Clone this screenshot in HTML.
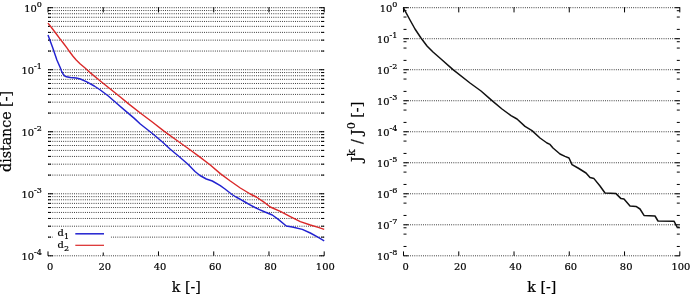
<!DOCTYPE html>
<html><head><meta charset="utf-8"><title>convergence</title>
<style>html,body{margin:0;padding:0;background:#fff}svg{display:block}</style>
</head><body>
<svg width="690" height="295" viewBox="0 0 690 295">
<style>
text{font-family:"DejaVu Serif", "Liberation Serif", serif;fill:#000;stroke:#000;stroke-width:0.2px}
.tk{font-size:9.9px}
.sup{font-size:8.0px}
.lab{font-size:14.2px}
.lsup{font-size:11.36px}
.g{stroke:#111;stroke-width:1;stroke-dasharray:0.8 1.36667;stroke-dashoffset:2.06667}
.t{stroke:#000;stroke-width:1}
</style>
<rect width="690" height="295" fill="#fff"/>
<line class="g" x1="48.00" y1="7.70" x2="324.20" y2="7.70"/>
<line class="g" x1="48.00" y1="10.54" x2="324.20" y2="10.54"/>
<line class="g" x1="48.00" y1="13.71" x2="324.20" y2="13.71"/>
<line class="g" x1="48.00" y1="17.31" x2="324.20" y2="17.31"/>
<line class="g" x1="48.00" y1="21.46" x2="324.20" y2="21.46"/>
<line class="g" x1="48.00" y1="26.37" x2="324.20" y2="26.37"/>
<line class="g" x1="48.00" y1="32.38" x2="324.20" y2="32.38"/>
<line class="g" x1="48.00" y1="40.13" x2="324.20" y2="40.13"/>
<line class="g" x1="48.00" y1="51.05" x2="324.20" y2="51.05"/>
<line class="g" x1="48.00" y1="69.73" x2="324.20" y2="69.73"/>
<line class="g" x1="48.00" y1="72.56" x2="324.20" y2="72.56"/>
<line class="g" x1="48.00" y1="75.74" x2="324.20" y2="75.74"/>
<line class="g" x1="48.00" y1="79.33" x2="324.20" y2="79.33"/>
<line class="g" x1="48.00" y1="83.49" x2="324.20" y2="83.49"/>
<line class="g" x1="48.00" y1="88.40" x2="324.20" y2="88.40"/>
<line class="g" x1="48.00" y1="94.41" x2="324.20" y2="94.41"/>
<line class="g" x1="48.00" y1="102.16" x2="324.20" y2="102.16"/>
<line class="g" x1="48.00" y1="113.08" x2="324.20" y2="113.08"/>
<line class="g" x1="48.00" y1="131.75" x2="324.20" y2="131.75"/>
<line class="g" x1="48.00" y1="134.59" x2="324.20" y2="134.59"/>
<line class="g" x1="48.00" y1="137.76" x2="324.20" y2="137.76"/>
<line class="g" x1="48.00" y1="141.36" x2="324.20" y2="141.36"/>
<line class="g" x1="48.00" y1="145.51" x2="324.20" y2="145.51"/>
<line class="g" x1="48.00" y1="150.42" x2="324.20" y2="150.42"/>
<line class="g" x1="48.00" y1="156.43" x2="324.20" y2="156.43"/>
<line class="g" x1="48.00" y1="164.18" x2="324.20" y2="164.18"/>
<line class="g" x1="48.00" y1="175.10" x2="324.20" y2="175.10"/>
<line class="g" x1="48.00" y1="193.78" x2="324.20" y2="193.78"/>
<line class="g" x1="48.00" y1="196.61" x2="324.20" y2="196.61"/>
<line class="g" x1="48.00" y1="199.79" x2="324.20" y2="199.79"/>
<line class="g" x1="48.00" y1="203.38" x2="324.20" y2="203.38"/>
<line class="g" x1="48.00" y1="207.54" x2="324.20" y2="207.54"/>
<line class="g" x1="48.00" y1="212.45" x2="324.20" y2="212.45"/>
<line class="g" x1="48.00" y1="218.46" x2="324.20" y2="218.46"/>
<line class="g" x1="48.00" y1="226.21" x2="324.20" y2="226.21"/>
<line class="g" x1="48.00" y1="237.13" x2="324.20" y2="237.13"/>
<line class="g" x1="48.00" y1="255.80" x2="324.20" y2="255.80"/>
<line class="t" x1="48.00" y1="7.70" x2="53.00" y2="7.70"/>
<line class="t" x1="319.20" y1="7.70" x2="324.20" y2="7.70"/>
<text class="tk" text-anchor="end" x="41.90" y="12.30">10<tspan class="sup" dy="-5.3">0</tspan></text>
<line class="t" x1="48.00" y1="10.54" x2="51.00" y2="10.54"/>
<line class="t" x1="321.20" y1="10.54" x2="324.20" y2="10.54"/>
<line class="t" x1="48.00" y1="13.71" x2="51.00" y2="13.71"/>
<line class="t" x1="321.20" y1="13.71" x2="324.20" y2="13.71"/>
<line class="t" x1="48.00" y1="17.31" x2="51.00" y2="17.31"/>
<line class="t" x1="321.20" y1="17.31" x2="324.20" y2="17.31"/>
<line class="t" x1="48.00" y1="21.46" x2="51.00" y2="21.46"/>
<line class="t" x1="321.20" y1="21.46" x2="324.20" y2="21.46"/>
<line class="t" x1="48.00" y1="26.37" x2="51.00" y2="26.37"/>
<line class="t" x1="321.20" y1="26.37" x2="324.20" y2="26.37"/>
<line class="t" x1="48.00" y1="32.38" x2="51.00" y2="32.38"/>
<line class="t" x1="321.20" y1="32.38" x2="324.20" y2="32.38"/>
<line class="t" x1="48.00" y1="40.13" x2="51.00" y2="40.13"/>
<line class="t" x1="321.20" y1="40.13" x2="324.20" y2="40.13"/>
<line class="t" x1="48.00" y1="51.05" x2="51.00" y2="51.05"/>
<line class="t" x1="321.20" y1="51.05" x2="324.20" y2="51.05"/>
<line class="t" x1="48.00" y1="69.73" x2="53.00" y2="69.73"/>
<line class="t" x1="319.20" y1="69.73" x2="324.20" y2="69.73"/>
<text class="tk" text-anchor="end" x="41.90" y="74.33">10<tspan class="sup" dy="-5.3">-1</tspan></text>
<line class="t" x1="48.00" y1="72.56" x2="51.00" y2="72.56"/>
<line class="t" x1="321.20" y1="72.56" x2="324.20" y2="72.56"/>
<line class="t" x1="48.00" y1="75.74" x2="51.00" y2="75.74"/>
<line class="t" x1="321.20" y1="75.74" x2="324.20" y2="75.74"/>
<line class="t" x1="48.00" y1="79.33" x2="51.00" y2="79.33"/>
<line class="t" x1="321.20" y1="79.33" x2="324.20" y2="79.33"/>
<line class="t" x1="48.00" y1="83.49" x2="51.00" y2="83.49"/>
<line class="t" x1="321.20" y1="83.49" x2="324.20" y2="83.49"/>
<line class="t" x1="48.00" y1="88.40" x2="51.00" y2="88.40"/>
<line class="t" x1="321.20" y1="88.40" x2="324.20" y2="88.40"/>
<line class="t" x1="48.00" y1="94.41" x2="51.00" y2="94.41"/>
<line class="t" x1="321.20" y1="94.41" x2="324.20" y2="94.41"/>
<line class="t" x1="48.00" y1="102.16" x2="51.00" y2="102.16"/>
<line class="t" x1="321.20" y1="102.16" x2="324.20" y2="102.16"/>
<line class="t" x1="48.00" y1="113.08" x2="51.00" y2="113.08"/>
<line class="t" x1="321.20" y1="113.08" x2="324.20" y2="113.08"/>
<line class="t" x1="48.00" y1="131.75" x2="53.00" y2="131.75"/>
<line class="t" x1="319.20" y1="131.75" x2="324.20" y2="131.75"/>
<text class="tk" text-anchor="end" x="41.90" y="136.35">10<tspan class="sup" dy="-5.3">-2</tspan></text>
<line class="t" x1="48.00" y1="134.59" x2="51.00" y2="134.59"/>
<line class="t" x1="321.20" y1="134.59" x2="324.20" y2="134.59"/>
<line class="t" x1="48.00" y1="137.76" x2="51.00" y2="137.76"/>
<line class="t" x1="321.20" y1="137.76" x2="324.20" y2="137.76"/>
<line class="t" x1="48.00" y1="141.36" x2="51.00" y2="141.36"/>
<line class="t" x1="321.20" y1="141.36" x2="324.20" y2="141.36"/>
<line class="t" x1="48.00" y1="145.51" x2="51.00" y2="145.51"/>
<line class="t" x1="321.20" y1="145.51" x2="324.20" y2="145.51"/>
<line class="t" x1="48.00" y1="150.42" x2="51.00" y2="150.42"/>
<line class="t" x1="321.20" y1="150.42" x2="324.20" y2="150.42"/>
<line class="t" x1="48.00" y1="156.43" x2="51.00" y2="156.43"/>
<line class="t" x1="321.20" y1="156.43" x2="324.20" y2="156.43"/>
<line class="t" x1="48.00" y1="164.18" x2="51.00" y2="164.18"/>
<line class="t" x1="321.20" y1="164.18" x2="324.20" y2="164.18"/>
<line class="t" x1="48.00" y1="175.10" x2="51.00" y2="175.10"/>
<line class="t" x1="321.20" y1="175.10" x2="324.20" y2="175.10"/>
<line class="t" x1="48.00" y1="193.78" x2="53.00" y2="193.78"/>
<line class="t" x1="319.20" y1="193.78" x2="324.20" y2="193.78"/>
<text class="tk" text-anchor="end" x="41.90" y="198.38">10<tspan class="sup" dy="-5.3">-3</tspan></text>
<line class="t" x1="48.00" y1="196.61" x2="51.00" y2="196.61"/>
<line class="t" x1="321.20" y1="196.61" x2="324.20" y2="196.61"/>
<line class="t" x1="48.00" y1="199.79" x2="51.00" y2="199.79"/>
<line class="t" x1="321.20" y1="199.79" x2="324.20" y2="199.79"/>
<line class="t" x1="48.00" y1="203.38" x2="51.00" y2="203.38"/>
<line class="t" x1="321.20" y1="203.38" x2="324.20" y2="203.38"/>
<line class="t" x1="48.00" y1="207.54" x2="51.00" y2="207.54"/>
<line class="t" x1="321.20" y1="207.54" x2="324.20" y2="207.54"/>
<line class="t" x1="48.00" y1="212.45" x2="51.00" y2="212.45"/>
<line class="t" x1="321.20" y1="212.45" x2="324.20" y2="212.45"/>
<line class="t" x1="48.00" y1="218.46" x2="51.00" y2="218.46"/>
<line class="t" x1="321.20" y1="218.46" x2="324.20" y2="218.46"/>
<line class="t" x1="48.00" y1="226.21" x2="51.00" y2="226.21"/>
<line class="t" x1="321.20" y1="226.21" x2="324.20" y2="226.21"/>
<line class="t" x1="48.00" y1="237.13" x2="51.00" y2="237.13"/>
<line class="t" x1="321.20" y1="237.13" x2="324.20" y2="237.13"/>
<line class="t" x1="48.00" y1="255.80" x2="53.00" y2="255.80"/>
<line class="t" x1="319.20" y1="255.80" x2="324.20" y2="255.80"/>
<text class="tk" text-anchor="end" x="41.90" y="260.40">10<tspan class="sup" dy="-5.3">-4</tspan></text>
<line class="t" x1="48.00" y1="251.40" x2="48.00" y2="255.80"/>
<line class="t" x1="48.00" y1="7.20" x2="48.00" y2="12.40"/>
<text class="tk" text-anchor="middle" x="50.10" y="269.6">0</text>
<line class="t" x1="103.24" y1="251.40" x2="103.24" y2="255.80"/>
<line class="t" x1="103.24" y1="7.20" x2="103.24" y2="12.40"/>
<text class="tk" text-anchor="middle" x="104.84" y="269.6">20</text>
<line class="t" x1="158.48" y1="251.40" x2="158.48" y2="255.80"/>
<line class="t" x1="158.48" y1="7.20" x2="158.48" y2="12.40"/>
<text class="tk" text-anchor="middle" x="160.08" y="269.6">40</text>
<line class="t" x1="213.72" y1="251.40" x2="213.72" y2="255.80"/>
<line class="t" x1="213.72" y1="7.20" x2="213.72" y2="12.40"/>
<text class="tk" text-anchor="middle" x="215.32" y="269.6">60</text>
<line class="t" x1="268.96" y1="251.40" x2="268.96" y2="255.80"/>
<line class="t" x1="268.96" y1="7.20" x2="268.96" y2="12.40"/>
<text class="tk" text-anchor="middle" x="270.56" y="269.6">80</text>
<line class="t" x1="324.20" y1="251.40" x2="324.20" y2="255.80"/>
<line class="t" x1="324.20" y1="7.20" x2="324.20" y2="12.40"/>
<text class="tk" text-anchor="middle" x="325.30" y="269.6">100</text>
<rect x="53" y="228" width="57.5" height="24.5" fill="#fff"/>
<line class="g" x1="403.50" y1="7.70" x2="679.80" y2="7.70"/>
<line class="g" x1="403.50" y1="38.71" x2="679.80" y2="38.71"/>
<line class="g" x1="403.50" y1="69.73" x2="679.80" y2="69.73"/>
<line class="g" x1="403.50" y1="100.74" x2="679.80" y2="100.74"/>
<line class="g" x1="403.50" y1="131.75" x2="679.80" y2="131.75"/>
<line class="g" x1="403.50" y1="162.76" x2="679.80" y2="162.76"/>
<line class="g" x1="403.50" y1="193.78" x2="679.80" y2="193.78"/>
<line class="g" x1="403.50" y1="224.79" x2="679.80" y2="224.79"/>
<line class="g" x1="403.50" y1="255.80" x2="679.80" y2="255.80"/>
<line class="t" x1="403.50" y1="7.70" x2="408.50" y2="7.70"/>
<line class="t" x1="674.80" y1="7.70" x2="679.80" y2="7.70"/>
<text class="tk" text-anchor="end" x="397.40" y="12.30">10<tspan class="sup" dy="-5.3">0</tspan></text>
<line class="t" x1="403.50" y1="10.71" x2="406.50" y2="10.71"/>
<line class="t" x1="676.80" y1="10.71" x2="679.80" y2="10.71"/>
<line class="t" x1="403.50" y1="17.04" x2="406.50" y2="17.04"/>
<line class="t" x1="676.80" y1="17.04" x2="679.80" y2="17.04"/>
<line class="t" x1="403.50" y1="29.38" x2="406.50" y2="29.38"/>
<line class="t" x1="676.80" y1="29.38" x2="679.80" y2="29.38"/>
<line class="t" x1="403.50" y1="38.71" x2="408.50" y2="38.71"/>
<line class="t" x1="674.80" y1="38.71" x2="679.80" y2="38.71"/>
<text class="tk" text-anchor="end" x="397.40" y="43.31">10<tspan class="sup" dy="-5.3">-1</tspan></text>
<line class="t" x1="403.50" y1="41.72" x2="406.50" y2="41.72"/>
<line class="t" x1="676.80" y1="41.72" x2="679.80" y2="41.72"/>
<line class="t" x1="403.50" y1="48.05" x2="406.50" y2="48.05"/>
<line class="t" x1="676.80" y1="48.05" x2="679.80" y2="48.05"/>
<line class="t" x1="403.50" y1="60.39" x2="406.50" y2="60.39"/>
<line class="t" x1="676.80" y1="60.39" x2="679.80" y2="60.39"/>
<line class="t" x1="403.50" y1="69.73" x2="408.50" y2="69.73"/>
<line class="t" x1="674.80" y1="69.73" x2="679.80" y2="69.73"/>
<text class="tk" text-anchor="end" x="397.40" y="74.33">10<tspan class="sup" dy="-5.3">-2</tspan></text>
<line class="t" x1="403.50" y1="72.73" x2="406.50" y2="72.73"/>
<line class="t" x1="676.80" y1="72.73" x2="679.80" y2="72.73"/>
<line class="t" x1="403.50" y1="79.06" x2="406.50" y2="79.06"/>
<line class="t" x1="676.80" y1="79.06" x2="679.80" y2="79.06"/>
<line class="t" x1="403.50" y1="91.40" x2="406.50" y2="91.40"/>
<line class="t" x1="676.80" y1="91.40" x2="679.80" y2="91.40"/>
<line class="t" x1="403.50" y1="100.74" x2="408.50" y2="100.74"/>
<line class="t" x1="674.80" y1="100.74" x2="679.80" y2="100.74"/>
<text class="tk" text-anchor="end" x="397.40" y="105.34">10<tspan class="sup" dy="-5.3">-3</tspan></text>
<line class="t" x1="403.50" y1="103.74" x2="406.50" y2="103.74"/>
<line class="t" x1="676.80" y1="103.74" x2="679.80" y2="103.74"/>
<line class="t" x1="403.50" y1="110.07" x2="406.50" y2="110.07"/>
<line class="t" x1="676.80" y1="110.07" x2="679.80" y2="110.07"/>
<line class="t" x1="403.50" y1="122.41" x2="406.50" y2="122.41"/>
<line class="t" x1="676.80" y1="122.41" x2="679.80" y2="122.41"/>
<line class="t" x1="403.50" y1="131.75" x2="408.50" y2="131.75"/>
<line class="t" x1="674.80" y1="131.75" x2="679.80" y2="131.75"/>
<text class="tk" text-anchor="end" x="397.40" y="136.35">10<tspan class="sup" dy="-5.3">-4</tspan></text>
<line class="t" x1="403.50" y1="134.76" x2="406.50" y2="134.76"/>
<line class="t" x1="676.80" y1="134.76" x2="679.80" y2="134.76"/>
<line class="t" x1="403.50" y1="141.09" x2="406.50" y2="141.09"/>
<line class="t" x1="676.80" y1="141.09" x2="679.80" y2="141.09"/>
<line class="t" x1="403.50" y1="153.43" x2="406.50" y2="153.43"/>
<line class="t" x1="676.80" y1="153.43" x2="679.80" y2="153.43"/>
<line class="t" x1="403.50" y1="162.76" x2="408.50" y2="162.76"/>
<line class="t" x1="674.80" y1="162.76" x2="679.80" y2="162.76"/>
<text class="tk" text-anchor="end" x="397.40" y="167.36">10<tspan class="sup" dy="-5.3">-5</tspan></text>
<line class="t" x1="403.50" y1="165.77" x2="406.50" y2="165.77"/>
<line class="t" x1="676.80" y1="165.77" x2="679.80" y2="165.77"/>
<line class="t" x1="403.50" y1="172.10" x2="406.50" y2="172.10"/>
<line class="t" x1="676.80" y1="172.10" x2="679.80" y2="172.10"/>
<line class="t" x1="403.50" y1="184.44" x2="406.50" y2="184.44"/>
<line class="t" x1="676.80" y1="184.44" x2="679.80" y2="184.44"/>
<line class="t" x1="403.50" y1="193.78" x2="408.50" y2="193.78"/>
<line class="t" x1="674.80" y1="193.78" x2="679.80" y2="193.78"/>
<text class="tk" text-anchor="end" x="397.40" y="198.38">10<tspan class="sup" dy="-5.3">-6</tspan></text>
<line class="t" x1="403.50" y1="196.78" x2="406.50" y2="196.78"/>
<line class="t" x1="676.80" y1="196.78" x2="679.80" y2="196.78"/>
<line class="t" x1="403.50" y1="203.11" x2="406.50" y2="203.11"/>
<line class="t" x1="676.80" y1="203.11" x2="679.80" y2="203.11"/>
<line class="t" x1="403.50" y1="215.45" x2="406.50" y2="215.45"/>
<line class="t" x1="676.80" y1="215.45" x2="679.80" y2="215.45"/>
<line class="t" x1="403.50" y1="224.79" x2="408.50" y2="224.79"/>
<line class="t" x1="674.80" y1="224.79" x2="679.80" y2="224.79"/>
<text class="tk" text-anchor="end" x="397.40" y="229.39">10<tspan class="sup" dy="-5.3">-7</tspan></text>
<line class="t" x1="403.50" y1="227.79" x2="406.50" y2="227.79"/>
<line class="t" x1="676.80" y1="227.79" x2="679.80" y2="227.79"/>
<line class="t" x1="403.50" y1="234.12" x2="406.50" y2="234.12"/>
<line class="t" x1="676.80" y1="234.12" x2="679.80" y2="234.12"/>
<line class="t" x1="403.50" y1="246.46" x2="406.50" y2="246.46"/>
<line class="t" x1="676.80" y1="246.46" x2="679.80" y2="246.46"/>
<line class="t" x1="403.50" y1="255.80" x2="408.50" y2="255.80"/>
<line class="t" x1="674.80" y1="255.80" x2="679.80" y2="255.80"/>
<text class="tk" text-anchor="end" x="397.40" y="260.40">10<tspan class="sup" dy="-5.3">-8</tspan></text>
<line class="t" x1="403.50" y1="251.40" x2="403.50" y2="255.80"/>
<line class="t" x1="403.50" y1="7.20" x2="403.50" y2="12.40"/>
<text class="tk" text-anchor="middle" x="405.60" y="269.6">0</text>
<line class="t" x1="458.76" y1="251.40" x2="458.76" y2="255.80"/>
<line class="t" x1="458.76" y1="7.20" x2="458.76" y2="12.40"/>
<text class="tk" text-anchor="middle" x="460.36" y="269.6">20</text>
<line class="t" x1="514.02" y1="251.40" x2="514.02" y2="255.80"/>
<line class="t" x1="514.02" y1="7.20" x2="514.02" y2="12.40"/>
<text class="tk" text-anchor="middle" x="515.62" y="269.6">40</text>
<line class="t" x1="569.28" y1="251.40" x2="569.28" y2="255.80"/>
<line class="t" x1="569.28" y1="7.20" x2="569.28" y2="12.40"/>
<text class="tk" text-anchor="middle" x="570.88" y="269.6">60</text>
<line class="t" x1="624.54" y1="251.40" x2="624.54" y2="255.80"/>
<line class="t" x1="624.54" y1="7.20" x2="624.54" y2="12.40"/>
<text class="tk" text-anchor="middle" x="626.14" y="269.6">80</text>
<line class="t" x1="679.80" y1="251.40" x2="679.80" y2="255.80"/>
<line class="t" x1="679.80" y1="7.20" x2="679.80" y2="12.40"/>
<text class="tk" text-anchor="middle" x="680.90" y="269.6">100</text>
<path d="M48.0,23.1 L52.0,28.3 L56.2,33.7 L60.0,38.8 L64.0,44.0 L67.1,48.2 L70.0,52.3 L73.0,56.2 L76.0,59.8 L80.0,63.8 L84.8,67.8 L91.0,73.4 L100.3,81.0 L110.3,89.0 L120.3,97.0 L128.3,103.6 L140.3,113.0 L152.3,122.0 L164.3,131.4 L176.3,140.0 L190.3,150.0 L200.3,157.4 L210.3,165.0 L220.3,173.6 L230.3,181.0 L240.3,188.0 L250.3,194.0 L256.3,197.0 L264.3,202.4 L270.3,207.0 L280.3,211.4 L290.3,216.6 L300.3,221.6 L310.3,225.0 L318.3,227.4 L324.2,229.3" fill="none" stroke="#da2828" stroke-width="1.4" stroke-linejoin="round"/>
<path d="M48.0,35.0 L52.8,48.0 L56.9,60.0 L60.3,67.7 L61.5,71.0 L63.0,74.0 L64.5,75.8 L66.4,76.8 L70.3,77.5 L76.3,78.0 L80.3,79.0 L86.3,81.6 L94.3,86.0 L100.3,90.0 L108.3,96.0 L116.3,103.0 L126.3,111.6 L134.3,118.4 L140.3,124.0 L153.0,134.0 L163.0,142.5 L170.0,149.0 L179.0,156.5 L188.0,164.3 L195.0,171.5 L200.0,175.5 L206.3,179.0 L212.3,181.0 L220.3,185.6 L225.0,189.0 L232.0,194.5 L236.0,197.0 L240.0,199.2 L245.0,202.0 L250.0,204.8 L255.0,207.5 L260.0,209.8 L265.0,212.0 L272.3,215.0 L278.3,219.4 L286.3,226.0 L292.3,227.0 L302.3,229.4 L310.3,233.0 L318.3,237.4 L324.2,240.8" fill="none" stroke="#2222d0" stroke-width="1.45" stroke-linejoin="round"/>
<path d="M403.3,7.6 L410.0,20.0 L415.0,29.0 L421.0,38.0 L427.0,46.0 L433.0,52.0 L441.0,59.0 L453.0,69.6 L470.0,83.0 L481.0,91.0 L492.0,100.6 L502.0,109.0 L511.0,115.6 L517.0,119.0 L525.0,126.4 L532.0,130.6 L540.0,138.0 L547.0,143.0 L550.0,144.4 L553.0,148.0 L560.0,154.0 L565.0,156.4 L569.0,158.0 L572.0,164.6 L578.0,168.0 L586.0,173.0 L590.0,177.6 L594.0,178.6 L600.0,186.0 L605.0,193.0 L616.0,193.6 L621.0,198.6 L624.0,199.0 L630.0,206.0 L636.0,206.4 L640.0,209.0 L644.0,215.4 L655.0,216.0 L658.0,221.0 L674.0,221.2 L677.0,227.0 L679.7,227.6" fill="none" stroke="#111" stroke-width="1.5" stroke-linejoin="round"/>
<text class="tk" x="57.6" y="235.8">d<tspan class="sup" dy="3.2">1</tspan></text>
<line x1="75.3" y1="233.8" x2="104" y2="233.8" stroke="#2222d0" stroke-width="1.5"/>
<text class="tk" x="57.6" y="247.5">d<tspan class="sup" dy="3.2">2</tspan></text>
<line x1="75.3" y1="245.3" x2="104" y2="245.3" stroke="#da2828" stroke-width="1.2"/>
<text class="lab" text-anchor="middle" x="186.3" y="291.6">k [-]</text>
<text class="lab" text-anchor="middle" x="541.8" y="291.6">k [-]</text>
<text class="lab" text-anchor="middle" transform="translate(11.4,131.5) rotate(-90)">distance [-]</text>
<text class="lab" text-anchor="start" transform="translate(362.3,162.1) rotate(-90)">J<tspan class="lsup" dx="0.1" dy="-7.3">k</tspan><tspan dx="0.9" dy="7.3"> /</tspan><tspan dx="-0.4"> J</tspan><tspan class="lsup" dx="0.1" dy="-7.3">0</tspan><tspan dx="-0.1" dy="7.3"> [-]</tspan></text>
</svg>
</body></html>
